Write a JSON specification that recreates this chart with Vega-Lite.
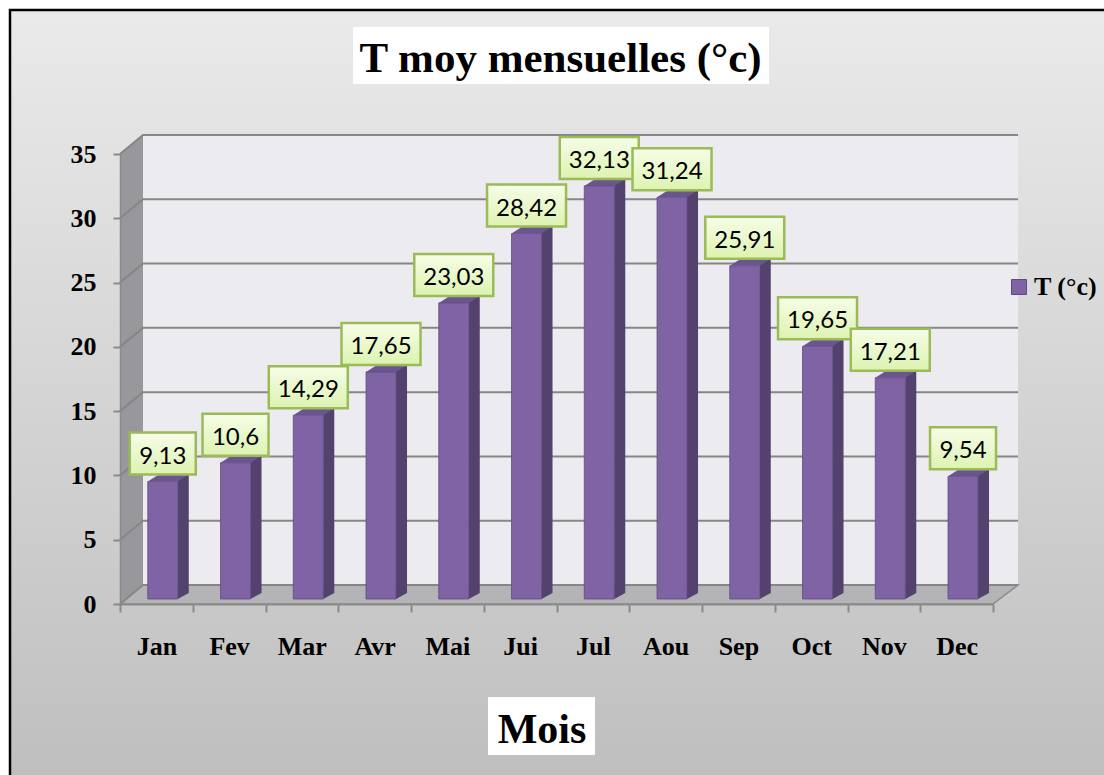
{
  "$schema": "https://vega.github.io/schema/vega-lite/v6.json",
  "width": 873,
  "height": 450,
  "autosize": {"type": "none"},
  "padding": {"left": 120, "top": 154, "right": 111, "bottom": 171},
  "background": "white",
  "config": {
    "locale": {"number": {"decimal": ",", "thousands": " ", "grouping": [3], "currency": ["", " €"]}},
    "view": {"fill": null, "stroke": null},
    "axis": {"zindex": 1, "grid": false},
    "axisX": {
      "tickBand": "extent",
      "domainColor": "#8a8a8a", "domainWidth": 2,
      "tickColor": "#8a8a8a", "tickWidth": 2, "tickSize": 8,
      "labelFont": "Liberation Serif", "labelFontSize": 26, "labelFontWeight": "bold", "labelColor": "black",
      "labelPadding": 42, "labelBaseline": "alphabetic", "labelAngle": 0,
      "titleFont": "Liberation Serif", "titleFontSize": 42, "titleFontWeight": "bold", "titleColor": "black",
      "titleX": 421.5, "titleY": 138, "titleBaseline": "alphabetic", "titleAlign": "center", "titleAngle": 0
    },
    "axisY": {
      "domainColor": "#8a8a8a", "domainWidth": 1.5,
      "tickColor": "#8a8a8a", "tickWidth": 2, "tickSize": 7,
      "labelFont": "Liberation Serif", "labelFontSize": 26, "labelFontWeight": "bold", "labelColor": "black",
      "labelPadding": 17
    }
  },
  "datasets": {
    "temp": [
      {"mois": "Jan", "T": 9.13, "serie": "T (°c)"},
      {"mois": "Fev", "T": 10.6, "serie": "T (°c)"},
      {"mois": "Mar", "T": 14.29, "serie": "T (°c)"},
      {"mois": "Avr", "T": 17.65, "serie": "T (°c)"},
      {"mois": "Mai", "T": 23.03, "serie": "T (°c)"},
      {"mois": "Jui", "T": 28.42, "serie": "T (°c)"},
      {"mois": "Jul", "T": 32.13, "serie": "T (°c)"},
      {"mois": "Aou", "T": 31.24, "serie": "T (°c)"},
      {"mois": "Sep", "T": 25.91, "serie": "T (°c)"},
      {"mois": "Oct", "T": 19.65, "serie": "T (°c)"},
      {"mois": "Nov", "T": 17.21, "serie": "T (°c)"},
      {"mois": "Dec", "T": 9.54, "serie": "T (°c)"}
    ],
    "grid": [{"v": 0}, {"v": 5}, {"v": 10}, {"v": 15}, {"v": 20}, {"v": 25}, {"v": 30}, {"v": 35}],
    "one": [{"titre": "T moy mensuelles (°c)"}]
  },
  "layer": [
    {
      "data": {"name": "one"},
      "mark": {"type": "point", "shape": "M-110,-594 H1000 V190 H-110 Z", "size": 4, "filled": true,
        "fill": {"gradient": "linear", "x1": 0, "y1": 0, "x2": 0, "y2": 1, "stops": [{"offset": 0, "color": "#eaeaea"}, {"offset": 1, "color": "#bebebe"}]},
        "stroke": "black", "strokeWidth": 2.5, "strokeDash": [1110, 1894, 784], "opacity": 1},
      "encoding": {
        "x": {"datum": "Jan", "bandPosition": 0},
        "y": {"datum": 0}
      }
    },
    {
      "data": {"name": "one"},
      "mark": {"type": "point", "shape": "M0,0 L23,-19 L898,-19 L873,0 Z", "size": 4, "filled": true, "fill": "#b4b4b6", "stroke": "#8c8c8c", "strokeWidth": 1.5, "opacity": 1},
      "encoding": {
        "x": {"datum": "Jan", "bandPosition": 0},
        "y": {"datum": 0}
      }
    },
    {
      "data": {"name": "one"},
      "mark": {"type": "point", "shape": "M0,0 L0,-450 L23,-469 L23,-19 Z", "size": 4, "filled": true, "fill": "#98979c", "strokeWidth": 0, "opacity": 1},
      "encoding": {
        "x": {"datum": "Jan", "bandPosition": 0},
        "y": {"datum": 0}
      }
    },
    {
      "data": {"name": "one"},
      "mark": {"type": "point", "shape": "M23,-19 L23,-469 L898,-469 L898,-19 Z", "size": 4, "filled": true, "fill": "#ecebf0", "strokeWidth": 0, "opacity": 1},
      "encoding": {
        "x": {"datum": "Jan", "bandPosition": 0},
        "y": {"datum": 0}
      }
    },
    {
      "data": {"name": "grid"},
      "mark": {"type": "point", "shape": "M0,0 L23,-19 L898,-19", "size": 4, "filled": false, "fill": null, "stroke": "#868686", "strokeWidth": 2, "opacity": 1},
      "encoding": {
        "x": {"datum": "Jan", "bandPosition": 0},
        "y": {"field": "v", "type": "quantitative"}
      }
    },
    {
      "data": {"name": "temp"},
      "mark": {"type": "bar", "width": 11, "xOffset": 26.9, "yOffset": -12, "y2Offset": -11, "color": "#54426e"},
      "encoding": {
        "x": {"field": "mois", "type": "nominal", "sort": null},
        "y": {"field": "T", "type": "quantitative"},
        "y2": {"datum": 0}
      }
    },
    {
      "data": {"name": "temp"},
      "mark": {"type": "point", "shape": "M21.4,-11 L32.4,-11 L21.4,-5 Z", "size": 4, "filled": true, "fill": "#54426e", "strokeWidth": 0, "opacity": 1},
      "encoding": {
        "x": {"field": "mois", "type": "nominal", "sort": null},
        "y": {"datum": 0}
      }
    },
    {
      "data": {"name": "temp"},
      "mark": {"type": "point", "shape": "M-8.6,-5 L21.4,-5 L32.4,-12 L2.4,-12 Z", "size": 4, "filled": true, "fill": "#6b5591", "strokeWidth": 0, "opacity": 1},
      "encoding": {
        "x": {"field": "mois", "type": "nominal", "sort": null},
        "y": {"field": "T", "type": "quantitative"}
      }
    },
    {
      "data": {"name": "temp"},
      "mark": {"type": "bar", "width": 30, "xOffset": 6.4, "yOffset": -5, "y2Offset": -5, "stroke": "#5e4b7d", "strokeWidth": 0.8},
      "encoding": {
        "x": {
          "field": "mois", "type": "nominal", "sort": null,
          "scale": {"type": "band", "domain": ["Jan", "Fev", "Mar", "Avr", "Mai", "Jui", "Jul", "Aou", "Sep", "Oct", "Nov", "Dec"], "paddingInner": 0, "paddingOuter": 0},
          "axis": {"title": "Mois", "tickBand": "extent", "zindex": 1}
        },
        "y": {
          "field": "T", "type": "quantitative",
          "scale": {"domain": [0, 35], "nice": false, "zero": true},
          "axis": {"title": null, "values": [0, 5, 10, 15, 20, 25, 30, 35], "zindex": 1, "grid": false}
        },
        "y2": {"datum": 0},
        "color": {
          "field": "serie", "type": "nominal",
          "scale": {"range": ["#7f63a5"]},
          "legend": {
            "orient": "none", "legendX": 886, "legendY": 120, "title": null, "padding": 0,
            "symbolType": "square", "symbolSize": 225, "symbolStrokeColor": "#5e4b7d", "symbolStrokeWidth": 1, "symbolOpacity": 1,
            "labelFont": "Liberation Serif", "labelFontSize": 26, "labelFontWeight": "bold", "labelColor": "black", "labelOffset": 2
          }
        }
      }
    },
    {
      "data": {"name": "temp"},
      "transform": [{"filter": "length(toString(datum.T)) <= 4"}],
      "mark": {"type": "point", "shape": "M-26.6,-54 H39.4 V-12 H-26.6 Z", "size": 4, "filled": true,
        "fill": {"gradient": "linear", "x1": 0, "y1": 0, "x2": 0, "y2": 1, "stops": [{"offset": 0, "color": "#f6fde8"}, {"offset": 1, "color": "#ddf3b0"}]},
        "stroke": "#9bbb59", "strokeWidth": 2.5, "opacity": 1},
      "encoding": {
        "x": {"field": "mois", "type": "nominal", "sort": null},
        "y": {"field": "T", "type": "quantitative"}
      }
    },
    {
      "data": {"name": "temp"},
      "transform": [{"filter": "length(toString(datum.T)) > 4"}],
      "mark": {"type": "point", "shape": "M-33.1,-54 H45.9 V-12 H-33.1 Z", "size": 4, "filled": true,
        "fill": {"gradient": "linear", "x1": 0, "y1": 0, "x2": 0, "y2": 1, "stops": [{"offset": 0, "color": "#f6fde8"}, {"offset": 1, "color": "#ddf3b0"}]},
        "stroke": "#9bbb59", "strokeWidth": 2.5, "opacity": 1},
      "encoding": {
        "x": {"field": "mois", "type": "nominal", "sort": null},
        "y": {"field": "T", "type": "quantitative"}
      }
    },
    {
      "data": {"name": "temp"},
      "mark": {"type": "text", "font": "Lato", "fontSize": 24, "color": "black", "align": "center", "baseline": "alphabetic", "xOffset": 6.4, "yOffset": -23},
      "encoding": {
        "x": {"field": "mois", "type": "nominal", "sort": null},
        "y": {"field": "T", "type": "quantitative"},
        "text": {"field": "T", "type": "quantitative", "format": "~g"}
      }
    },
    {
      "data": {"name": "one"},
      "mark": {"type": "point", "shape": "M233,-127 H649 V-70 H233 Z", "size": 4, "filled": true, "fill": "white", "strokeWidth": 0, "opacity": 1},
      "encoding": {
        "x": {"datum": "Jan", "bandPosition": 0},
        "y": {"datum": 35}
      }
    },
    {
      "data": {"name": "one"},
      "mark": {"type": "text", "font": "Liberation Serif", "fontSize": 43, "fontWeight": "bold", "color": "black", "align": "center", "baseline": "alphabetic", "xOffset": 440.5, "yOffset": -82},
      "encoding": {
        "x": {"datum": "Jan", "bandPosition": 0},
        "y": {"datum": 35},
        "text": {"field": "titre", "type": "nominal"}
      }
    },
    {
      "data": {"name": "one"},
      "mark": {"type": "point", "shape": "M368,93 H475 V151 H368 Z", "size": 4, "filled": true, "fill": "white", "strokeWidth": 0, "opacity": 1},
      "encoding": {
        "x": {"datum": "Jan", "bandPosition": 0},
        "y": {"datum": 0}
      }
    }
  ]
}
